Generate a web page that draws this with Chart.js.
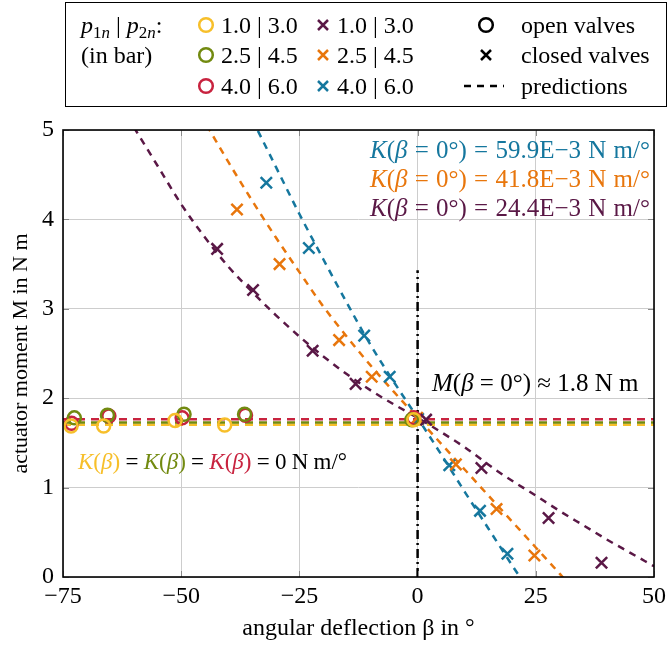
<!DOCTYPE html>
<html><head><meta charset="utf-8">
<script src="https://cdn.jsdelivr.net/npm/chart.js@4.4.1/dist/chart.umd.min.js"></script>
<style>
html,body{margin:0;padding:0;background:#fff;}
#wrap{position:relative;width:671px;height:646px;overflow:hidden;font-family:"Liberation Serif","Times New Roman",serif;color:#000;}
#c{position:absolute;left:0;top:0;}
.t{position:absolute;white-space:nowrap;font-size:24px;line-height:24px;}
.a{position:absolute;white-space:nowrap;font-size:25px;line-height:25px;word-spacing:1px;}
.mk{position:absolute;}
#legend{position:absolute;left:65px;top:2px;width:602px;height:105px;border:1.5px solid #000;box-sizing:border-box;}
sub{font-size:17px;line-height:0;vertical-align:-5px;}
</style></head>
<body><div id="wrap">
<canvas id="c" width="671" height="646"></canvas>
<div id="legend"></div>
<div id="leg"></div>
<div class="a" style="right:21px;top:137px;color:#15779E"><i>K</i>(<i>β</i> = 0°) = 59.9E−3 N m/°</div>
<div class="a" style="right:21px;top:166px;color:#E8760C"><i>K</i>(<i>β</i> = 0°) = 41.8E−3 N m/°</div>
<div class="a" style="right:21px;top:195px;color:#5A1846"><i>K</i>(<i>β</i> = 0°) = 24.4E−3 N m/°</div>
<div class="a" style="left:432px;top:370px;word-spacing:0"><i>M</i>(<i>β</i> = 0°) ≈ 1.8 N m</div>
<div class="t" style="left:78px;top:450px;font-size:23px;line-height:23px;word-spacing:-0.5px"><span style="color:#F7BF2A"><i>K</i>(<i>β</i>)</span> = <span style="color:#728A10"><i>K</i>(<i>β</i>)</span> = <span style="color:#C8233F"><i>K</i>(<i>β</i>)</span> = 0 N m/°</div>
</div>
<script>
// ---- tick values / labels ----
const xTicks = [-75, -50, -25, 0, 25, 50];
const xTickLabels = ['−75', '−50', '−25', '0', '25', '50'];
const yTicks = [0, 1, 2, 3, 4, 5];
const yTickLabels = ['0', '1', '2', '3', '4', '5'];

// ---- series names (p1n | p2n in bar) ----
const seriesNames = ['1.0 | 3.0', '2.5 | 4.5', '4.0 | 6.0'];

// ---- open valves (circles) ----
const openBeta_1030 = [-73.3, -66.4, -51.3, -40.8, -0.8];
const openM_1030    = [1.69, 1.69, 1.75, 1.70, 1.76];
const openBeta_2545 = [-72.6, -65.6, -49.4, -36.6, -1.2];
const openM_2545    = [1.78, 1.81, 1.82, 1.82, 1.76];
const openBeta_4060 = [-73.2, -65.3, -49.8, -36.4, -0.8];
const openM_4060    = [1.72, 1.80, 1.78, 1.81, 1.78];

// ---- closed valves (crosses) ----
const closedBeta_1030 = [-42.4, -34.8, -22.2, -13.1, 1.8, 13.5, 27.7, 38.9];
const closedM_1030    = [3.67, 3.21, 2.53, 2.16, 1.76, 1.22, 0.66, 0.16];
const closedBeta_2545 = [-38.2, -29.2, -16.6, -9.7, -0.1, 8.1, 16.7, 24.7];
const closedM_2545    = [4.11, 3.50, 2.65, 2.24, 1.78, 1.26, 0.76, 0.24];
const closedBeta_4060 = [-32.0, -23.0, -11.3, -5.9, 0.1, 6.7, 13.2, 19.0];
const closedM_4060    = [4.41, 3.68, 2.70, 2.24, 1.77, 1.25, 0.74, 0.26];

// ---- predictions, open valves (constant) ----
const predOpenBeta   = [-75, 50];
const predOpenM_1030 = [1.703, 1.703];
const predOpenM_2545 = [1.727, 1.727];
const predOpenM_4060 = [1.765, 1.765];

// ---- predictions, closed valves ----
const predBeta_1030 = [-60, -55, -50, -45, -40, -35, -30, -25, -20, -15, -10, -5, 0, 5, 10, 17, 25, 30, 35, 40, 45, 50];
const predM_1030    = [5.03, 4.60, 4.17, 3.80, 3.47, 3.19, 2.93, 2.69, 2.47, 2.27, 2.09, 1.93, 1.78, 1.62, 1.45, 1.18, 0.91, 0.74, 0.58, 0.42, 0.27, 0.12];
const predBeta_2545 = [-46, -44, -40, -35, -30, -25, -20, -15, -10, -5, 0, 5, 10, 15, 20, 25, 30, 31];
const predM_2545    = [5.18, 5.00, 4.64, 4.21, 3.80, 3.41, 3.03, 2.69, 2.37, 2.07, 1.78, 1.49, 1.20, 0.91, 0.62, 0.33, 0.04, -0.02];
const predBeta_4060 = [-35, -30, -25, -20, -15, -10, -5, 0, 5, 10, 15, 20, 22];
const predM_4060    = [5.12, 4.59, 4.06, 3.56, 3.07, 2.60, 2.18, 1.78, 1.37, 0.95, 0.54, 0.13, -0.03];

// ---- reference line at beta = 0 ----
const zeroLineBeta = [0, 0];
const zeroLineM    = [0, 3.43];

const C = {y:'#F7BF2A', g:'#728A10', r:'#C8233F', p:'#5A1846', o:'#E8760C', b:'#15779E'};
const FONT = '"Liberation Serif","Times New Roman",serif';
const pts = (xs, ys) => xs.map((x, i) => ({x: x, y: ys[i]}));

function circles(label, xs, ys, col){
  return {label, data: pts(xs, ys), showLine:false, pointStyle:'circle', pointRadius:6.5,
    pointBorderWidth:2.5, pointBorderColor:col, pointBackgroundColor:'rgba(0,0,0,0)', borderColor:col, order:1};
}
function crosses(label, xs, ys, col){
  return {label, data: pts(xs, ys), showLine:false, pointStyle:'crossRot', pointRadius:8,
    pointBorderWidth:2.5, pointBorderColor:col, pointBackgroundColor:col, borderColor:col, order:1};
}
function pred(label, xs, ys, col, dash){
  return {label, data: pts(xs, ys), showLine:true, pointRadius:0, borderColor:col, borderWidth:2.5,
    borderDash: dash || [7,6], cubicInterpolationMode:'monotone', fill:false, order:3};
}

const datasets = [
  circles('open ' + seriesNames[0], openBeta_1030, openM_1030, C.y),
  circles('open ' + seriesNames[1], openBeta_2545, openM_2545, C.g),
  circles('open ' + seriesNames[2], openBeta_4060, openM_4060, C.r),
  crosses('closed ' + seriesNames[0], closedBeta_1030, closedM_1030, C.p),
  crosses('closed ' + seriesNames[1], closedBeta_2545, closedM_2545, C.o),
  crosses('closed ' + seriesNames[2], closedBeta_4060, closedM_4060, C.b),
  pred('pred open ' + seriesNames[2], predOpenBeta, predOpenM_4060, C.r, [8,6]),
  pred('pred open ' + seriesNames[1], predOpenBeta, predOpenM_2545, C.g, [8,6]),
  pred('pred open ' + seriesNames[0], predOpenBeta, predOpenM_1030, C.y, [8,6]),
  pred('pred closed ' + seriesNames[0], predBeta_1030, predM_1030, C.p),
  pred('pred closed ' + seriesNames[1], predBeta_2545, predM_2545, C.o),
  pred('pred closed ' + seriesNames[2], predBeta_4060, predM_4060, C.b),
  Object.assign(pred('beta = 0', zeroLineBeta, zeroLineM, '#000', [9,4,2,4]), {order:2, cubicInterpolationMode:'default', tension:0})
];

const frame = {
  id:'frame',
  afterDraw(chart){
    const {ctx, chartArea:a, scales:{x, y}} = chart;
    ctx.save();
    ctx.strokeStyle = '#8a8a8a'; ctx.lineWidth = 1;
    ctx.beginPath();
    xTicks.forEach(v => { const px = Math.round(x.getPixelForValue(v)) + 0.5;
      ctx.moveTo(px, a.bottom); ctx.lineTo(px, a.bottom - 6); ctx.moveTo(px, a.top); ctx.lineTo(px, a.top + 6); });
    yTicks.forEach(v => { const py = Math.round(y.getPixelForValue(v)) + 0.5;
      ctx.moveTo(a.left, py); ctx.lineTo(a.left + 6, py); ctx.moveTo(a.right, py); ctx.lineTo(a.right - 6, py); });
    ctx.stroke();
    ctx.strokeStyle = '#000'; ctx.lineWidth = 1.6;
    ctx.strokeRect(a.left, a.top, a.right - a.left, a.bottom - a.top);
    ctx.restore();
  }
};

new Chart(document.getElementById('c'), {
  type:'scatter',
  data:{datasets},
  options:{
    responsive:false, animation:false, devicePixelRatio:1,
    layout:{padding:{top:130, right:12, left:0, bottom:0}},
    plugins:{legend:{display:false}, tooltip:{enabled:false}},
    scales:{
      x:{type:'linear', min:-75, max:50,
        afterBuildTicks: s => { s.ticks = xTicks.map(v => ({value:v})); },
        afterFit: s => { s.height = 69; },
        grid:{color:'#cdcdcd', lineWidth:1, drawTicks:false},
        border:{display:false},
        ticks:{padding:5, color:'#000', font:{family:FONT, size:24},
          callback: v => xTickLabels[xTicks.indexOf(v)]},
        title:{display:true, text:'angular deflection β in °', color:'#000', font:{family:FONT, size:24}, padding:{top:0, bottom:3}}
      },
      y:{type:'linear', min:0, max:5,
        afterBuildTicks: s => { s.ticks = yTicks.map(v => ({value:v})); },
        afterFit: s => { s.width = 63; },
        grid:{color:'#cdcdcd', lineWidth:1, drawTicks:false},
        border:{display:false},
        ticks:{padding:9, color:'#000', font:{family:FONT, size:24},
          callback: v => yTickLabels[yTicks.indexOf(v)]},
        title:{display:true, text:'actuator moment M in N m', color:'#000', font:{family:FONT, size:22}, padding:{top:8, bottom:0}}
      }
    }
  },
  plugins:[frame]
});

// ---- legend (HTML) ----
const rowsTop = [13, 43, 74];
const leg = document.getElementById('leg');
function svgCircle(cx, cy, col){
  return `<svg class="mk" style="left:${cx-10}px;top:${cy-10}px" width="20" height="20"><circle cx="10" cy="10" r="6.8" fill="none" stroke="${col}" stroke-width="2.5"/></svg>`;
}
function svgCross(cx, cy, col){
  return `<svg class="mk" style="left:${cx-10}px;top:${cy-10}px" width="20" height="20"><path d="M5 5 L15 15 M15 5 L5 15" stroke="${col}" stroke-width="2.5"/></svg>`;
}
function txt(x, top, html){ return `<div class="t" style="left:${x}px;top:${top}px">${html}</div>`; }
let h = '';
h += txt(81, rowsTop[0], '<i>p</i><sub>1<i>n</i></sub> | <i>p</i><sub>2<i>n</i></sub>:');
h += txt(81, rowsTop[1], '(in bar)');
const openCols = [C.y, C.g, C.r], closedCols = [C.p, C.o, C.b];
for (let i = 0; i < 3; i++){
  const cy = rowsTop[i] + 12;
  h += svgCircle(206, cy, openCols[i]);
  h += txt(221, rowsTop[i], seriesNames[i]);
  h += svgCross(323, cy, closedCols[i]);
  h += txt(337, rowsTop[i], seriesNames[i]);
}
h += svgCircle(486, rowsTop[0] + 12, '#000');
h += txt(521, rowsTop[0], 'open valves');
h += svgCross(486, rowsTop[1] + 12, '#000');
h += txt(521, rowsTop[1], 'closed valves');
h += `<svg class="mk" style="left:463px;top:${rowsTop[2]+6}px" width="42" height="12"><line x1="1" y1="6" x2="41" y2="6" stroke="#000" stroke-width="2.5" stroke-dasharray="7,6"/></svg>`;
h += txt(521, rowsTop[2], 'predictions');
leg.innerHTML = h;
</script>
</body></html>
